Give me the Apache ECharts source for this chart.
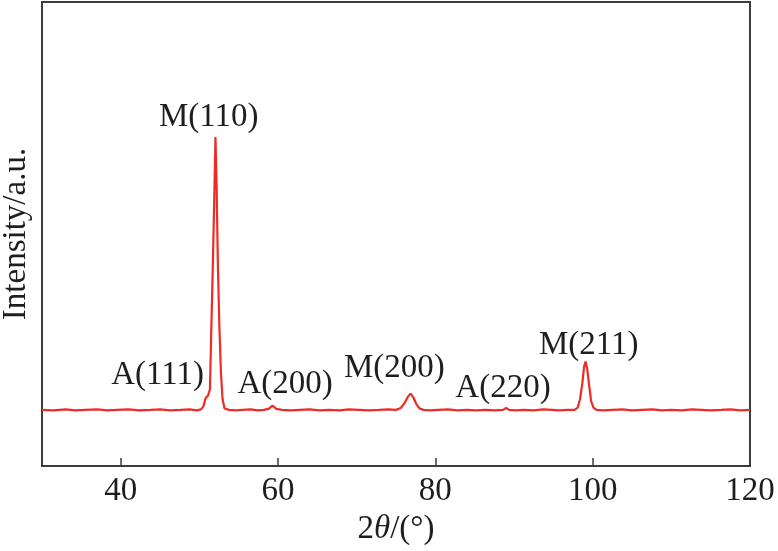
<!DOCTYPE html>
<html>
<head>
<meta charset="utf-8">
<script src="https://cdn.jsdelivr.net/npm/echarts@6/dist/echarts.min.js"></script>
<style>
html,body{margin:0;padding:0;background:#fff;}
#chart{width:778px;height:551px;}
</style>
</head>
<body>
<div id="chart"></div>
<script>
// XRD pattern
const twoTheta = [30, 31.5, 33, 34.2, 35.5, 37, 38.3, 39.6, 41, 42.4, 43.8, 45, 46.3, 47.6, 48.8, 49.7, 50.2, 50.5, 50.8, 51.1, 51.35, 51.5, 51.7, 51.9, 52.05, 52.2, 52.35, 52.55, 52.75, 52.95, 53.2, 53.8, 54.6, 55.5, 56.5, 57.4, 58.2, 58.8, 59.3, 59.8, 60.5, 61.6, 62.8, 64, 65.3, 66.5, 67.8, 69, 70.3, 71.5, 72.8, 74, 75, 75.6, 76.1, 76.5, 76.85, 77.2, 77.6, 78, 78.5, 79.3, 80.4, 81.6, 82.8, 84, 85.2, 86.4, 87.6, 88.6, 89, 89.4, 90.2, 91.3, 92.5, 93.7, 94.8, 95.8, 96.8, 97.7, 98.1, 98.4, 98.7, 98.9, 99.1, 99.3, 99.55, 99.8, 100.1, 100.5, 101.3, 102.5, 103.8, 105, 106.3, 107.6, 108.8, 110, 111.3, 112.6, 113.8, 115, 116.3, 117.5, 118.8, 120];
const intensity = [12.1, 12.0, 12.2, 12.0, 12.1, 12.2, 12.0, 12.1, 12.2, 12.0, 12.1, 12.2, 12.0, 12.1, 12.2, 12.0, 12.2, 12.8, 14.6, 15.2, 16.5, 28, 42, 58, 70.9, 60, 44, 30, 20, 14.5, 12.4, 12.1, 12.0, 12.1, 12.2, 12.0, 12.1, 12.3, 13.0, 12.3, 12.1, 12.0, 12.1, 12.2, 12.0, 12.1, 12.0, 12.2, 12.1, 12.0, 12.1, 12.2, 12.1, 12.5, 13.6, 14.9, 15.6, 14.8, 13.3, 12.4, 12.1, 12.0, 12.1, 12.2, 12.0, 12.1, 12.0, 12.1, 12.0, 12.1, 12.5, 12.1, 12.0, 12.1, 12.0, 12.2, 12.1, 12.0, 12.1, 12.1, 12.6, 14.5, 18, 21.3, 22.5, 21, 17.5, 14, 12.6, 12.1, 12.0, 12.1, 12.2, 12.0, 12.1, 12.2, 12.0, 12.1, 12.0, 12.2, 12.1, 12.0, 12.1, 12.2, 12.0, 12.1];

// Peak annotations (label centre in data coordinates)
const peakLabels = ['M(110)', 'A(111)', 'A(200)', 'M(200)', 'A(220)', 'M(211)'];
const peakLabelX = [51.2, 44.7, 60.9, 74.8, 88.6, 99.5];
const peakLabelY = [75.2, 19.6, 17.5, 21.1, 16.8, 26.1];

const xTicks = [40, 60, 80, 100, 120];

const FONT = 'Liberation Serif';
const AXIS_COLOR = '#3c3c3c';
const TEXT_COLOR = '#1e1e1e';

const chart = echarts.init(document.getElementById('chart'));
chart.setOption({
  backgroundColor: '#fff',
  animation: false,
  grid: {
    left: 42, right: 28, top: 2, bottom: 85,
    containLabel: false,
    outerBoundsMode: 'none',
    show: true, borderColor: AXIS_COLOR, borderWidth: 2, backgroundColor: 'transparent'
  },
  xAxis: {
    type: 'value', min: 30, max: 120,
    splitLine: {show: false},
    axisLine: {show: true, lineStyle: {color: AXIS_COLOR, width: 2}},
    axisTick: {show: true, inside: true, length: 8, lineStyle: {color: AXIS_COLOR, width: 1.5}, customValues: xTicks},
    axisLabel: {show: true, customValues: xTicks, margin: 9, color: TEXT_COLOR, fontFamily: FONT, fontSize: 33},
    name: '2{i|θ}/(°)',
    nameLocation: 'middle',
    nameGap: 45,
    nameTextStyle: {color: TEXT_COLOR, fontFamily: FONT, fontSize: 33,
      rich: {i: {fontStyle: 'italic', fontFamily: FONT, fontSize: 33, color: TEXT_COLOR}}}
  },
  yAxis: {
    type: 'value', min: 0, max: 100,
    splitLine: {show: false},
    axisLine: {show: true, lineStyle: {color: AXIS_COLOR, width: 2}},
    axisTick: {show: false},
    axisLabel: {show: false},
    name: 'Intensity/a.u.',
    nameLocation: 'middle',
    nameGap: 9,
    nameTextStyle: {color: TEXT_COLOR, fontFamily: FONT, fontSize: 33}
  },
  series: [
    {
      type: 'line',
      data: twoTheta.map((t, i) => [t, intensity[i]]),
      showSymbol: false,
      symbol: 'none',
      lineStyle: {color: '#ee2b25', width: 2.2},
      z: 3
    },
    {
      type: 'scatter',
      symbolSize: 0,
      silent: true,
      itemStyle: {opacity: 1},
      data: peakLabels.map((n, i) => ({name: n, value: [peakLabelX[i], peakLabelY[i]]})),
      label: {
        show: true, position: 'inside', opacity: 1,
        formatter: p => p.name,
        color: TEXT_COLOR, textBorderWidth: 0, textBorderColor: 'transparent',
        fontFamily: FONT, fontSize: 33
      },
      z: 4
    }
  ]
});
</script>
</body>
</html>
